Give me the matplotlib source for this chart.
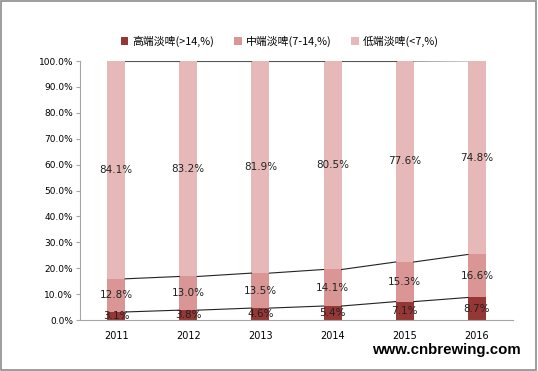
import numpy as np
import matplotlib
matplotlib.use("Agg")
from matplotlib import pyplot as plt
from matplotlib.patches import Rectangle

plt.rcParams['font.family'] = ['Noto Sans CJK SC', 'DejaVu Sans']

years = ['2011', '2012', '2013', '2014', '2015', '2016']
high = [3.1, 3.8, 4.6, 5.4, 7.1, 8.7]
mid = [12.8, 13.0, 13.5, 14.1, 15.3, 16.6]
low = [84.1, 83.2, 81.9, 80.5, 77.6, 74.8]
names = ['高端淡啤(>14,%)', '中端淡啤(7-14,%)', '低端淡啤(<7,%)']
colors = ['#953735', '#d99694', '#e6b9b8']

fig = plt.figure(figsize=(5.38, 3.71), dpi=100)
fig.patches.append(Rectangle((0.002, 0.003), 0.995, 0.994, transform=fig.transFigure,
                             fill=False, edgecolor='#8c8c8c', linewidth=1.2))
ax = fig.add_axes([80 / 538, 51 / 371, 433 / 538, 259 / 371])

x = np.arange(len(years))
w = 0.25
series = [high, mid, low]
bottom = np.zeros(len(years))
for vals, c, n in zip(series, colors, names):
    vals = np.array(vals)
    ax.bar(x, vals, w, bottom=bottom, color=c, label=n, zorder=2)
    for xi, b, v in zip(x, bottom, vals):
        ax.text(xi, b + v / 2, '%.1f%%' % v, ha='center', va='center',
                fontsize=7.5, color='#222222', family='DejaVu Sans', zorder=4)
    bottom = bottom + vals
    # series lines between bars
    for i in range(len(years) - 1):
        lc = '#222222' if bottom[i] < 99.9 else '#555555'
        ax.plot([x[i] + w / 2, x[i + 1] - w / 2], [bottom[i], bottom[i + 1]],
                color=lc, linewidth=0.8, zorder=3)

ax.set_xlim(-0.5, len(years) - 0.5)
ax.set_ylim(0, 100)
ax.set_xticks(x)
ax.set_xticklabels(years, fontsize=7, family='DejaVu Sans')
ax.set_yticks(np.arange(0, 101, 10))
ax.set_yticklabels(['%.1f%%' % v for v in np.arange(0, 101, 10)], fontsize=6.5,
                   family='DejaVu Sans')
ax.tick_params(axis='x', length=0, pad=8)
ax.tick_params(axis='y', length=3, color='#a6a6a6', pad=2)
for s in ['top', 'right']:
    ax.spines[s].set_visible(False)
ax.spines['left'].set_color('#a6a6a6')
ax.spines['bottom'].set_color('#a6a6a6')

ax.legend(loc='center', bbox_to_anchor=(280 / 538, 330 / 371), bbox_transform=fig.transFigure,
          ncol=3, frameon=False, fontsize=7.8, handlelength=0.7, handleheight=0.7,
          columnspacing=1.8, handletextpad=0.4)

fig.text(446 / 538, 21 / 371, 'www.cnbrewing.com', ha='center', va='center',
         fontsize=10.8, fontweight='bold', family='Liberation Sans')

fig.savefig('out.png', dpi=100)
